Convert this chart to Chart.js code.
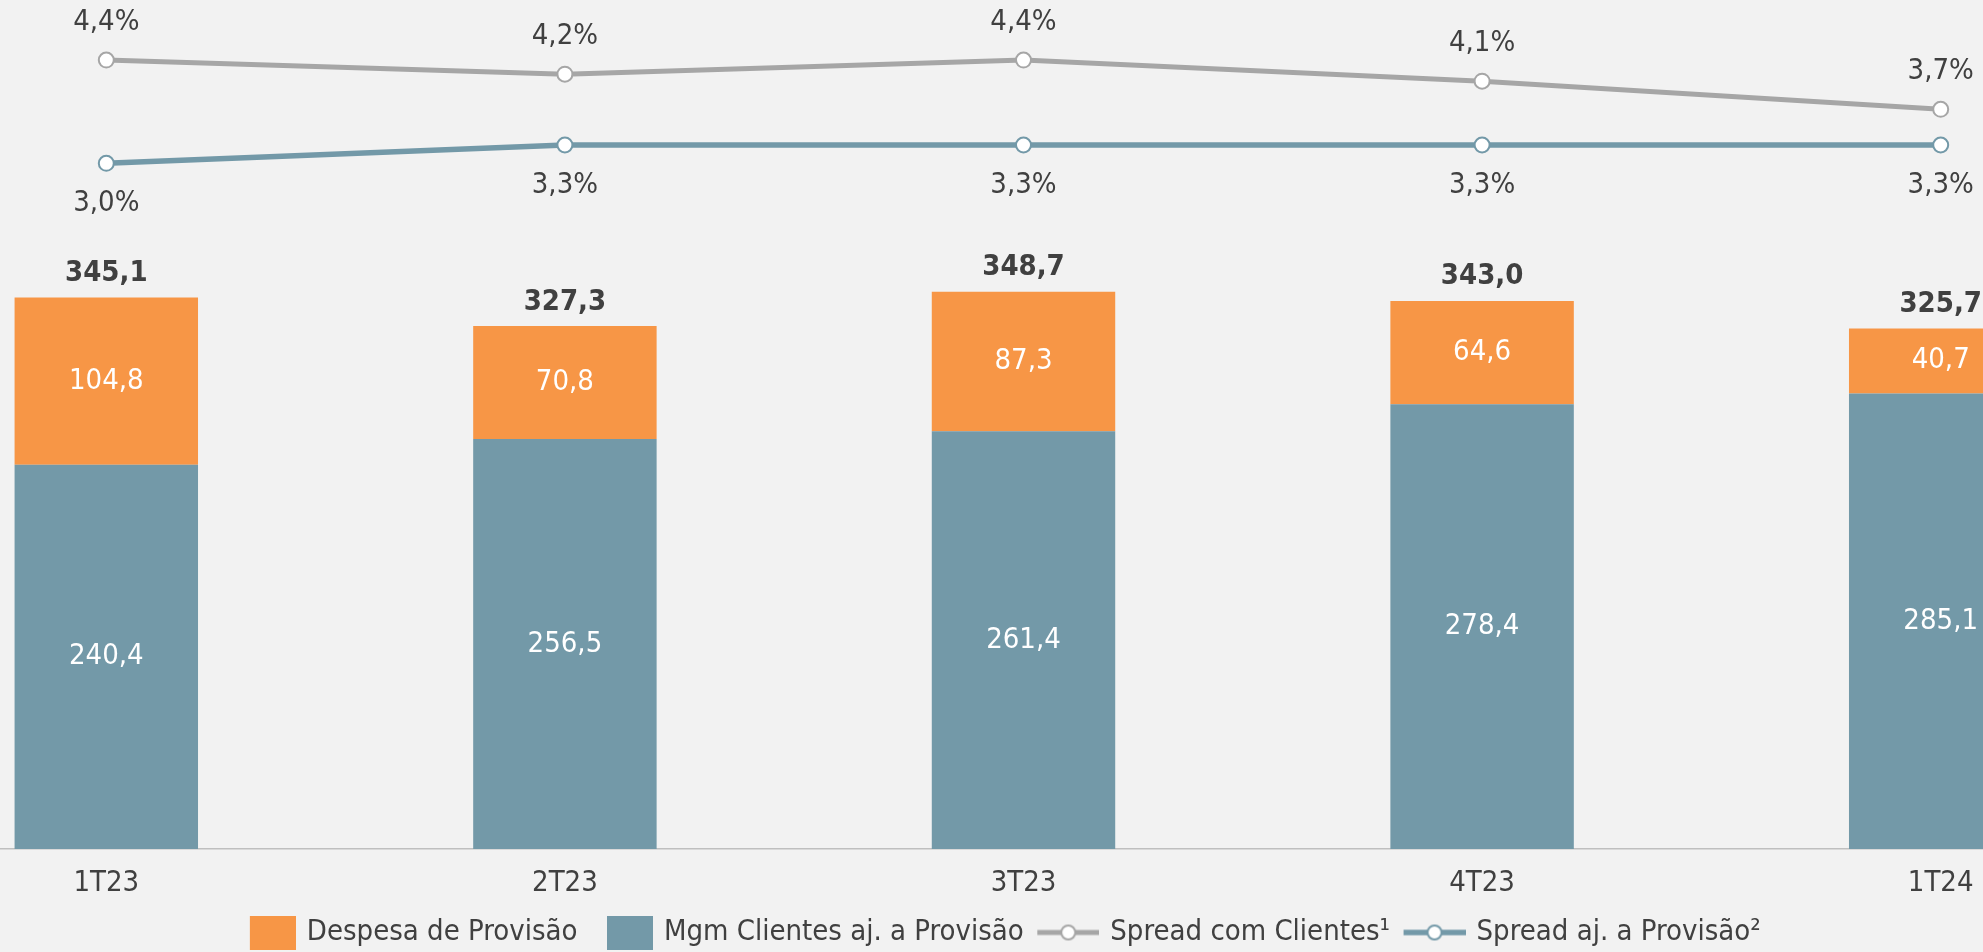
<!DOCTYPE html>
<html>
<head>
<meta charset="utf-8">
<script src="https://cdn.jsdelivr.net/npm/chart.js@4.4.1/dist/chart.umd.min.js"></script>
<style>
  html, body { margin: 0; padding: 0; background: #f2f2f2; overflow: hidden; width: 1983px; height: 952px; }
  #wrap { position: absolute; left: -123px; top: 0; }
</style>
</head>
<body>
<div id="wrap"><canvas id="chart" width="2293" height="957"></canvas></div>
<script>
const quarters = ['1T23', '2T23', '3T23', '4T23', '1T24']
const mgmClientes = [240.4, 256.5, 261.4, 278.4, 285.1]
const despesaProvisao = [104.8, 70.8, 87.3, 64.6, 40.7]
const totais = [345.1, 327.3, 348.7, 343.0, 325.7]
const spreadClientes = [4.4, 4.2, 4.4, 4.1, 3.7]
const spreadProvisao = [3.0, 3.3, 3.3, 3.3, 3.3]

const FONT = '"DejaVu Sans Condensed", "DejaVu Sans", sans-serif'
const SIZE = 29
const TEXT = '#404040'
const ORANGE = '#f79646'
const TEAL = '#7399a8'
const GRAY = '#a6a6a6'
const KEY_W = 68
const KEY_PAD = SIZE / 2 - 11
const LEGEND_DX = -31

Chart.defaults.font.family = FONT
Chart.defaults.font.size = SIZE
Chart.defaults.color = TEXT

const fmt = (v) => v.toFixed(1).replace('.', ',')

// legend keys drawn into small canvases, key sits at the right end
function boxKey(color) {
  const c = document.createElement('canvas')
  c.width = KEY_W + 2 * KEY_PAD
  c.height = 34
  const g = c.getContext('2d')
  g.fillStyle = color
  g.fillRect(c.width - 46, 0, 46, 34)
  return c
}

function lineKey(color, lw) {
  const c = document.createElement('canvas')
  c.width = KEY_W + 2 * KEY_PAD
  c.height = 20
  const g = c.getContext('2d')
  g.strokeStyle = color
  g.lineWidth = lw
  g.beginPath()
  g.moveTo(c.width - 62, 10)
  g.lineTo(c.width, 10)
  g.stroke()
  g.beginPath()
  g.arc(c.width - 31, 10, 7, 0, Math.PI * 2)
  g.fillStyle = '#fff'
  g.fill()
  g.lineWidth = 2
  g.stroke()
  return c
}

const valueLabels = {
  id: 'valueLabels',
  afterDatasetsDraw(chart) {
    const ctx = chart.ctx
    ctx.save()
    ctx.textAlign = 'center'
    ctx.textBaseline = 'middle'
    chart.data.datasets.forEach((ds, i) => {
      const meta = chart.getDatasetMeta(i)
      meta.data.forEach((el, j) => {
        const v = ds.data[j]
        if (ds.type === 'line') {
          ctx.font = `${SIZE}px ${FONT}`
          ctx.fillStyle = TEXT
          const dy = ds.labelPos === 'above' ? -38 : 40
          ctx.fillText(fmt(v) + '%', el.x, el.y + dy)
        } else {
          ctx.font = `${SIZE}px ${FONT}`
          ctx.fillStyle = '#ffffff'
          ctx.fillText(fmt(v), el.x, (el.y + el.base) / 2)
          if (ds.showTotal) {
            ctx.font = `bold ${SIZE}px ${FONT}`
            ctx.fillStyle = TEXT
            ctx.fillText(fmt(totais[j]), el.x, el.y - 24)
          }
        }
      })
    })
    ctx.restore()
  },
}

const legendShift = {
  id: 'legendShift',
  afterLayout(chart) {
    chart.legend.left += LEGEND_DX
    chart.legend.right += LEGEND_DX
  },
}

const keys = [lineKey(GRAY, 5), lineKey(TEAL, 5.5), boxKey(TEAL), boxKey(ORANGE)]
const legendOrder = [3, 2, 0, 1]

new Chart(document.getElementById('chart'), {
  type: 'bar',
  data: {
    labels: quarters,
    datasets: [
      {
        type: 'line',
        label: 'Spread com Clientes¹',
        data: spreadClientes,
        yAxisID: 'ySpreadCli',
        borderColor: GRAY,
        borderWidth: 5,
        pointRadius: 7.5,
        pointBorderWidth: 2,
        pointBackgroundColor: '#ffffff',
        pointBorderColor: GRAY,
        tension: 0,
        order: 0,
        labelPos: 'above',
      },
      {
        type: 'line',
        label: 'Spread aj. a Provisão²',
        data: spreadProvisao,
        yAxisID: 'ySpreadProv',
        borderColor: TEAL,
        borderWidth: 5.5,
        pointRadius: 7.5,
        pointBorderWidth: 2,
        pointBackgroundColor: '#ffffff',
        pointBorderColor: TEAL,
        tension: 0,
        order: 0,
        labelPos: 'below',
      },
      {
        label: 'Mgm Clientes aj. a Provisão',
        data: mgmClientes,
        backgroundColor: TEAL,
        stack: 's',
        order: 1,
      },
      {
        label: 'Despesa de Provisão',
        data: despesaProvisao,
        backgroundColor: ORANGE,
        stack: 's',
        order: 1,
        showTotal: true,
      },
    ],
  },
  options: {
    responsive: false,
    animation: false,
    layout: { padding: 0, autoPadding: false },
    datasets: { bar: { categoryPercentage: 1, barPercentage: 0.4 } },
    scales: {
      x: {
        stacked: true,
        grid: { display: false, drawTicks: false },
        border: { display: true, color: '#bfbfbf', width: 1.5 },
        ticks: { color: TEXT, padding: 17, font: { size: SIZE } },
        afterFit(scale) {
          scale.height = 65
        },
      },
      y: { stacked: true, min: 0, max: 531.3, display: false },
      ySpreadCli: { min: -6.822, max: 5.255, display: false },
      ySpreadProv: { min: -8.241, max: 5.677, display: false },
    },
    plugins: {
      tooltip: { enabled: false },
      legend: {
        position: 'bottom',
        labels: {
          usePointStyle: true,
          pointStyleWidth: KEY_W,
          padding: 4,
          color: TEXT,
          font: { size: SIZE },
          generateLabels: (chart) =>
            legendOrder.map((i) => ({
              text: chart.data.datasets[i].label,
              pointStyle: keys[i],
              datasetIndex: i,
              hidden: false,
              fontColor: TEXT,
              lineWidth: 0,
              strokeStyle: 'rgba(0,0,0,0)',
              fillStyle: 'rgba(0,0,0,0)',
            })),
        },
      },
    },
  },
  plugins: [valueLabels, legendShift],
})
</script>
</body>
</html>
